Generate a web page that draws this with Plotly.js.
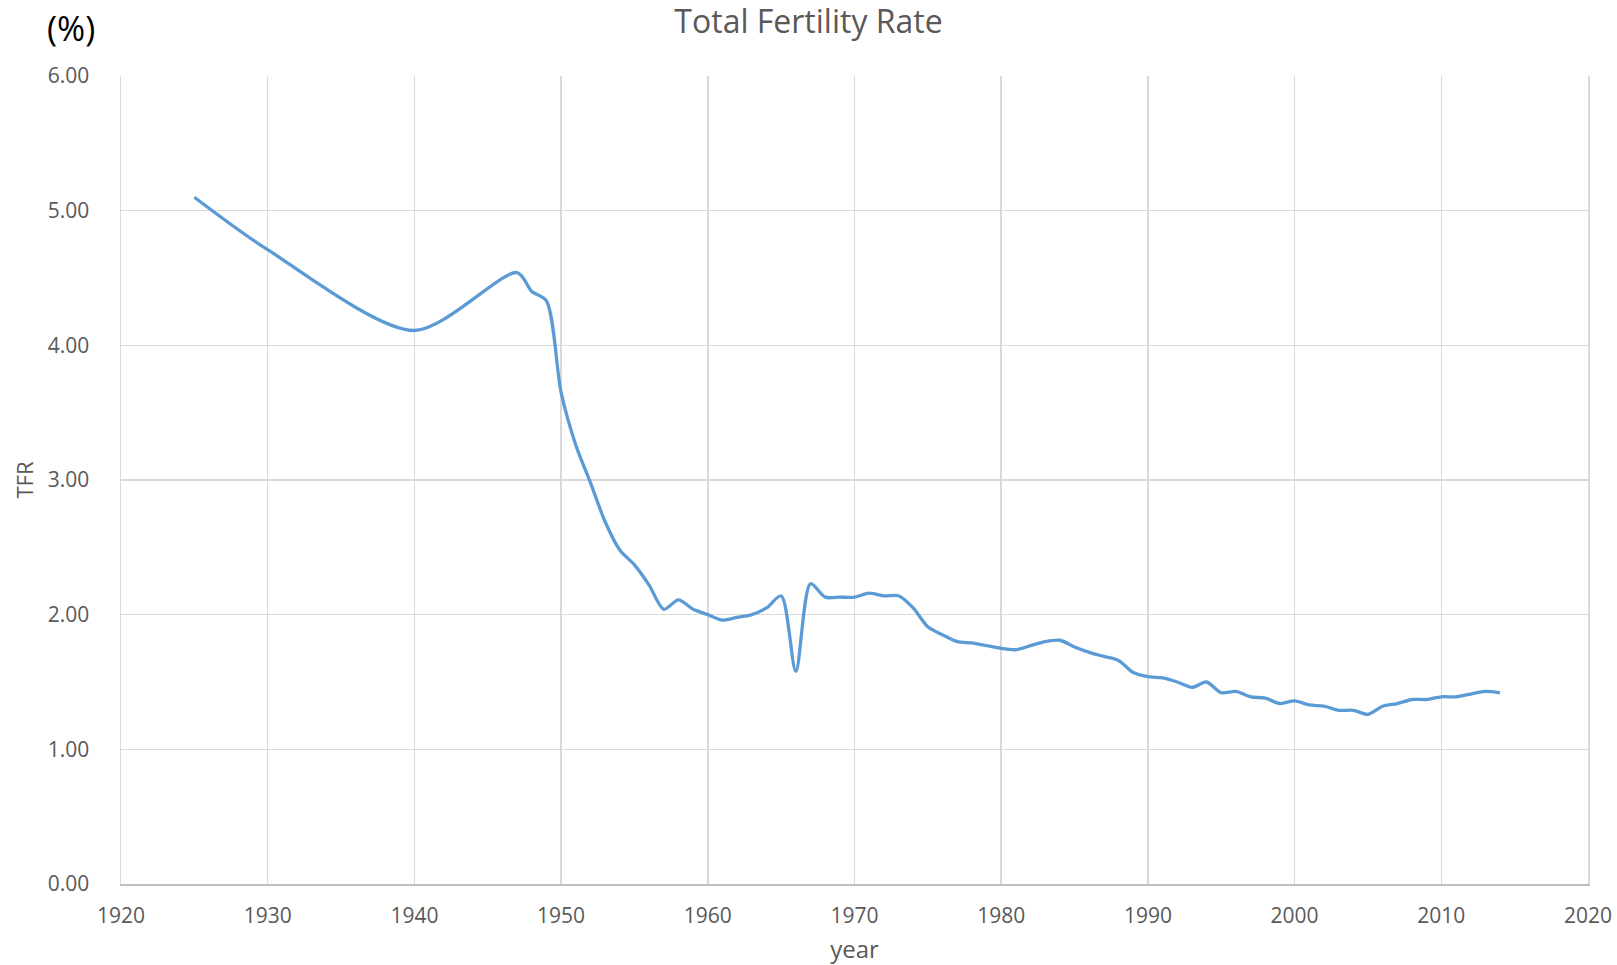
<!DOCTYPE html>
<html>
<head>
<meta charset="utf-8">
<script src="https://cdn.plot.ly/plotly-3.0.1.min.js"></script>
<style>
  html, body { margin: 0; padding: 0; background: #fff; }
  #chart { width: 1617px; height: 965px; }
</style>
</head>
<body>
<div id="chart"></div>
<script>
// Total fertility rate
const years = [1925, 1930, 1940, 1947, 1948, 1949, 1950, 1951, 1952, 1953, 1954,
  1955, 1956, 1957, 1958, 1959, 1960, 1961, 1962, 1963, 1964, 1965, 1966, 1967,
  1968, 1969, 1970, 1971, 1972, 1973, 1974, 1975, 1976, 1977, 1978, 1979, 1980,
  1981, 1982, 1983, 1984, 1985, 1986, 1987, 1988, 1989, 1990, 1991, 1992, 1993,
  1994, 1995, 1996, 1997, 1998, 1999, 2000, 2001, 2002, 2003, 2004, 2005, 2006,
  2007, 2008, 2009, 2010, 2011, 2012, 2013, 2014];
const tfr = [5.10, 4.71, 4.11, 4.54, 4.40, 4.33, 3.65, 3.26, 2.98, 2.69, 2.48,
  2.37, 2.22, 2.04, 2.11, 2.04, 2.00, 1.96, 1.98, 2.00, 2.05, 2.14, 1.58, 2.23,
  2.13, 2.13, 2.13, 2.16, 2.14, 2.14, 2.05, 1.91, 1.85, 1.80, 1.79, 1.77, 1.75,
  1.74, 1.77, 1.80, 1.81, 1.76, 1.72, 1.69, 1.66, 1.57, 1.54, 1.53, 1.50, 1.46,
  1.50, 1.42, 1.43, 1.39, 1.38, 1.34, 1.36, 1.33, 1.32, 1.29, 1.29, 1.26, 1.32,
  1.34, 1.37, 1.37, 1.39, 1.39, 1.41, 1.43, 1.42];

const gray = '#595959';
const font = '"Open Sans", "DejaVu Sans", sans-serif';

const trace = {
  x: years,
  y: tfr,
  mode: 'lines',
  type: 'scatter',
  line: { color: '#5b9bd5', width: 3.3, shape: 'spline', smoothing: 0.8 },
  hoverinfo: 'x+y'
};

const layout = {
  width: 1617,
  height: 965,
  margin: { l: 121, r: 29, t: 76, b: 81 },
  paper_bgcolor: '#ffffff',
  plot_bgcolor: '#ffffff',
  showlegend: false,
  font: { family: font, color: gray },
  title: {
    text: 'Total Fertility Rate',
    font: { family: font, size: 32, color: gray },
    x: 0.5, xref: 'container', xanchor: 'center',
    y: 1 - 22 / 965, yref: 'container', yanchor: 'middle'
  },
  xaxis: {
    range: [1920, 2020],
    dtick: 10,
    tick0: 1920,
    showgrid: true,
    gridcolor: '#d9d9d9',
    gridwidth: 1.5,
    zeroline: false,
    showline: true,
    linecolor: '#bfbfbf',
    linewidth: 2,
    ticks: '',
    ticklabelstandoff: 12,
    tickfont: { family: font, size: 21, color: gray },
    automargin: false,
    title: { text: 'year', font: { family: font, size: 24, color: gray }, standoff: 25 }
  },
  yaxis: {
    range: [0, 6],
    dtick: 1,
    tickformat: '.2f',
    showgrid: true,
    gridcolor: '#d9d9d9',
    gridwidth: 1.5,
    zeroline: false,
    showline: true,
    mirror: true,
    linecolor: '#d9d9d9',
    linewidth: 1.5,
    ticks: '',
    ticklabelstandoff: 26,
    tickfont: { family: font, size: 21, color: gray },
    automargin: false,
    title: { text: 'TFR', font: { family: font, size: 22, color: gray }, standoff: 8 }
  },
  annotations: [{
    text: '(%)',
    xref: 'paper', yref: 'paper',
    x: -121 / (1617 - 150) + 45 / (1617 - 150), xanchor: 'left',
    y: 1 + (76 - 28) / (965 - 157), yanchor: 'middle',
    showarrow: false,
    font: { family: font, size: 34, color: '#000000' }
  }]
};

Plotly.newPlot('chart', [trace], layout, { displayModeBar: false, staticPlot: true });
</script>
</body>
</html>
